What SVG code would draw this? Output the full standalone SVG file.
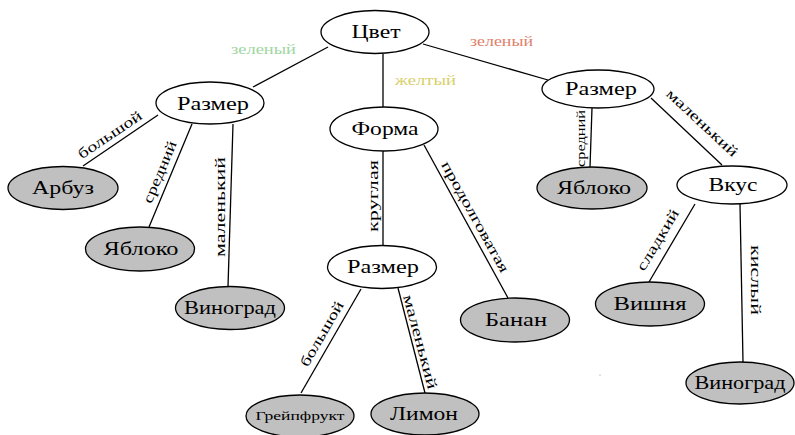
<svg xmlns="http://www.w3.org/2000/svg" width="795" height="435" viewBox="0 0 795 435">
<style>
.n{fill:#fff;stroke:#000;stroke-width:1.3}
.l{fill:#c0c0c0;stroke:#000;stroke-width:1.3}
.t{font-size:18.5px;text-anchor:middle;fill:#000}
.e{stroke:#000;stroke-width:1.3;fill:none}
.el{font-size:14.5px;text-anchor:middle;fill:#000}
</style>
<rect width="795" height="435" fill="#fff"/>
<g font-family="'Liberation Serif', 'Times New Roman', Times, serif">
<g id="edges">
<line class="e" x1="328" y1="47" x2="253" y2="87"/>
<line class="e" x1="383" y1="54" x2="383" y2="107"/>
<line class="e" x1="423" y1="44" x2="548" y2="80"/>
<line class="e" x1="158" y1="115" x2="83" y2="166"/>
<line class="e" x1="192" y1="124" x2="149" y2="227"/>
<line class="e" x1="233" y1="124" x2="228" y2="287"/>
<line class="e" x1="383" y1="151" x2="383" y2="245"/>
<line class="e" x1="424" y1="145" x2="508" y2="298"/>
<line class="e" x1="361" y1="289" x2="301" y2="393"/>
<line class="e" x1="398" y1="288" x2="425" y2="393"/>
<line class="e" x1="592" y1="108" x2="590" y2="167"/>
<line class="e" x1="651" y1="98" x2="722" y2="165"/>
<line class="e" x1="695" y1="204" x2="649" y2="282"/>
<line class="e" x1="740" y1="204" x2="743" y2="362"/>
<text x="263.5" y="54" class="el" fill="#9fd6a0" style="fill:#9fd6a0" textLength="65" lengthAdjust="spacingAndGlyphs">зеленый</text>
<text x="501.5" y="46" class="el" style="fill:#e0806a" textLength="63" lengthAdjust="spacingAndGlyphs">зеленый</text>
<text x="425.5" y="85" class="el" style="fill:#d8cf6a" textLength="61" lengthAdjust="spacingAndGlyphs">желтый</text>
<text class="el" transform="translate(110,135) rotate(-34)" x="0" y="4.5" textLength="74" lengthAdjust="spacingAndGlyphs">большой</text>
<text class="el" transform="translate(160,172) rotate(-67)" x="0" y="4.5" textLength="66" lengthAdjust="spacingAndGlyphs">средний</text>
<text class="el" transform="translate(220,207) rotate(-90)" x="0" y="4.5" textLength="100" lengthAdjust="spacingAndGlyphs">маленький</text>
<text class="el" transform="translate(373,196) rotate(-90)" x="0" y="4.5" textLength="72" lengthAdjust="spacingAndGlyphs">круглая</text>
<text class="el" transform="translate(475,217) rotate(61)" x="0" y="4.5" textLength="125" lengthAdjust="spacingAndGlyphs">продолговатая</text>
<text class="el" transform="translate(322,334) rotate(-60)" x="0" y="4.5" textLength="73" lengthAdjust="spacingAndGlyphs">большой</text>
<text class="el" transform="translate(420,342) rotate(75)" x="0" y="4.5" textLength="97" lengthAdjust="spacingAndGlyphs">маленький</text>
<text class="el" transform="translate(581.5,138.5) rotate(-90)" x="0" y="3.5" style="font-size:11.5px" textLength="57" lengthAdjust="spacingAndGlyphs">средний</text>
<text class="el" transform="translate(702,123) rotate(43)" x="0" y="4.5" textLength="92" lengthAdjust="spacingAndGlyphs">маленький</text>
<text class="el" transform="translate(658,240) rotate(-59)" x="0" y="4.5" textLength="69" lengthAdjust="spacingAndGlyphs">сладкий</text>
<text class="el" transform="translate(755,280) rotate(90)" x="0" y="4.5" textLength="70" lengthAdjust="spacingAndGlyphs">кислый</text>
</g>
<g id="color"><ellipse class="n" cx="375" cy="32" rx="54" ry="21.5"/><text class="t" x="376" y="38" textLength="49" lengthAdjust="spacingAndGlyphs">Цвет</text></g>
<g id="size1"><ellipse class="n" cx="210" cy="103" rx="54" ry="21"/><text class="t" x="213" y="109.5" textLength="72" lengthAdjust="spacingAndGlyphs">Размер</text></g>
<g id="shape"><ellipse class="n" cx="384" cy="129" rx="54" ry="22"/><text class="t" x="385" y="135" textLength="67" lengthAdjust="spacingAndGlyphs">Форма</text></g>
<g id="size2"><ellipse class="n" cx="598" cy="89" rx="56" ry="19"/><text class="t" x="601" y="95" textLength="72" lengthAdjust="spacingAndGlyphs">Размер</text></g>
<g id="taste"><ellipse class="n" cx="732" cy="185" rx="55" ry="19"/><text class="t" x="733" y="191" textLength="49" lengthAdjust="spacingAndGlyphs">Вкус</text></g>
<g id="size3"><ellipse class="n" cx="382" cy="267" rx="54.5" ry="21.5"/><text class="t" x="383" y="273" textLength="72" lengthAdjust="spacingAndGlyphs">Размер</text></g>
<g id="watermelon"><ellipse class="l" cx="63" cy="188" rx="55" ry="21.5"/><text class="t" x="63" y="194" textLength="62" lengthAdjust="spacingAndGlyphs">Арбуз</text></g>
<g id="apple1"><ellipse class="l" cx="140" cy="249" rx="54.5" ry="22"/><text class="t" x="141" y="255" textLength="75" lengthAdjust="spacingAndGlyphs">Яблоко</text></g>
<g id="grape1"><ellipse class="l" cx="230" cy="308" rx="54.5" ry="21.5"/><text class="t" x="230" y="314" textLength="92" lengthAdjust="spacingAndGlyphs">Виноград</text></g>
<g id="apple2"><ellipse class="l" cx="592" cy="188" rx="55" ry="21"/><text class="t" x="594" y="194" textLength="74" lengthAdjust="spacingAndGlyphs">Яблоко</text></g>
<g id="banana"><ellipse class="l" cx="515" cy="320" rx="54.5" ry="22"/><text class="t" x="516" y="326" textLength="62" lengthAdjust="spacingAndGlyphs">Банан</text></g>
<g id="grapefruit"><ellipse class="l" cx="300" cy="416" rx="54" ry="21"/><text class="t" x="300" y="420" style="font-size:13.5px" textLength="89" lengthAdjust="spacingAndGlyphs">Грейпфрукт</text></g>
<g id="lemon"><ellipse class="l" cx="425" cy="414" rx="54" ry="21"/><text class="t" x="424" y="420" textLength="68" lengthAdjust="spacingAndGlyphs">Лимон</text></g>
<g id="cherry"><ellipse class="l" cx="650" cy="304" rx="54.5" ry="22"/><text class="t" x="650" y="310" textLength="73" lengthAdjust="spacingAndGlyphs">Вишня</text></g>
<g id="grape2"><ellipse class="l" cx="740" cy="383" rx="54" ry="21"/><text class="t" x="740" y="389" textLength="91" lengthAdjust="spacingAndGlyphs">Виноград</text></g>
</g>
<circle cx="600" cy="375" r="0.6" fill="#888"/>
</svg>
